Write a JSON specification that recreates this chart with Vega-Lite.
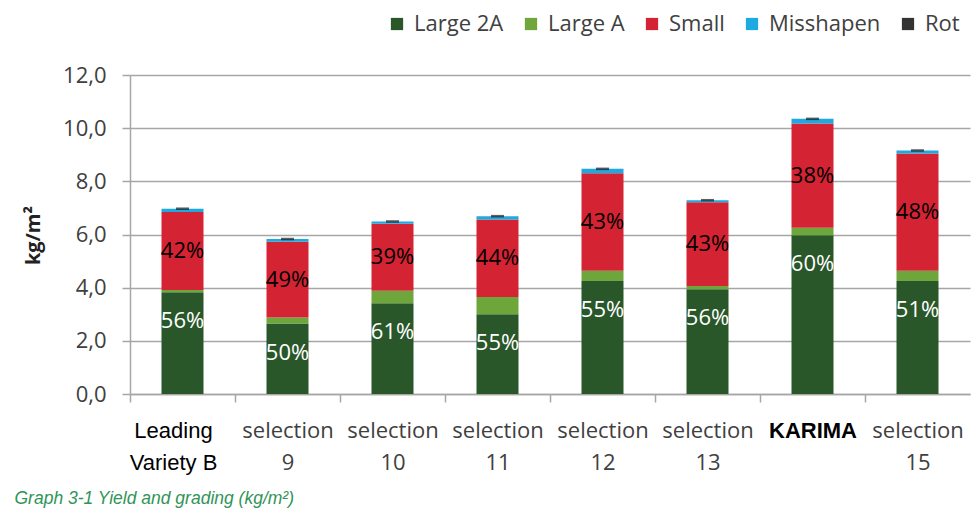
{
  "$schema": "https://vega.github.io/schema/vega-lite/v6.json",
  "width": 840,
  "height": 319,
  "autosize": {"type": "none"},
  "padding": {"left": 130, "top": 75, "right": 6, "bottom": 116},
  "background": "white",
  "config": {
    "view": {"stroke": null},
    "font": "Open Sans",
    "axisY": {
      "titleFontWeight": "bold",
      "titleFontSize": 20,
      "titleColor": "#222222",
      "titleFont": "Open Sans",
      "titleX": -97,
      "titleY": 160,
      "titleAngle": -90,
      "titleAlign": "center",
      "titleBaseline": "middle",
      "labelFontSize": 22,
      "labelColor": "#404040",
      "labelPadding": 16,
      "tickSize": 8,
      "tickColor": "#a6a6a6",
      "tickWidth": 1.5,
      "domainColor": "#a6a6a6",
      "domainWidth": 1.5,
      "gridColor": "#a6a6a6",
      "gridWidth": 1.5
    }
  },
  "data": {
    "values": [
      {"variety": "Leading|Variety B", "grade": "Large 2A", "o": 1, "kg": 3.83, "pct": "56%"},
      {"variety": "Leading|Variety B", "grade": "Large A", "o": 2, "kg": 0.08, "pct": ""},
      {"variety": "Leading|Variety B", "grade": "Small", "o": 3, "kg": 2.94, "pct": "42%"},
      {"variety": "Leading|Variety B", "grade": "Misshapen", "o": 4, "kg": 0.12, "pct": ""},
      {"variety": "Leading|Variety B", "grade": "Rot", "o": 5, "kg": 0.03, "pct": ""},
      {"variety": "selection|9", "grade": "Large 2A", "o": 1, "kg": 2.65, "pct": "50%"},
      {"variety": "selection|9", "grade": "Large A", "o": 2, "kg": 0.23, "pct": ""},
      {"variety": "selection|9", "grade": "Small", "o": 3, "kg": 2.85, "pct": "49%"},
      {"variety": "selection|9", "grade": "Misshapen", "o": 4, "kg": 0.1, "pct": ""},
      {"variety": "selection|9", "grade": "Rot", "o": 5, "kg": 0.03, "pct": ""},
      {"variety": "selection|10", "grade": "Large 2A", "o": 1, "kg": 3.41, "pct": "61%"},
      {"variety": "selection|10", "grade": "Large A", "o": 2, "kg": 0.47, "pct": ""},
      {"variety": "selection|10", "grade": "Small", "o": 3, "kg": 2.52, "pct": "39%"},
      {"variety": "selection|10", "grade": "Misshapen", "o": 4, "kg": 0.09, "pct": ""},
      {"variety": "selection|10", "grade": "Rot", "o": 5, "kg": 0.03, "pct": ""},
      {"variety": "selection|11", "grade": "Large 2A", "o": 1, "kg": 3.0, "pct": "55%"},
      {"variety": "selection|11", "grade": "Large A", "o": 2, "kg": 0.65, "pct": ""},
      {"variety": "selection|11", "grade": "Small", "o": 3, "kg": 2.91, "pct": "44%"},
      {"variety": "selection|11", "grade": "Misshapen", "o": 4, "kg": 0.13, "pct": ""},
      {"variety": "selection|11", "grade": "Rot", "o": 5, "kg": 0.03, "pct": ""},
      {"variety": "selection|12", "grade": "Large 2A", "o": 1, "kg": 4.25, "pct": "55%"},
      {"variety": "selection|12", "grade": "Large A", "o": 2, "kg": 0.39, "pct": ""},
      {"variety": "selection|12", "grade": "Small", "o": 3, "kg": 3.66, "pct": "43%"},
      {"variety": "selection|12", "grade": "Misshapen", "o": 4, "kg": 0.17, "pct": ""},
      {"variety": "selection|12", "grade": "Rot", "o": 5, "kg": 0.03, "pct": ""},
      {"variety": "selection|13", "grade": "Large 2A", "o": 1, "kg": 3.94, "pct": "56%"},
      {"variety": "selection|13", "grade": "Large A", "o": 2, "kg": 0.12, "pct": ""},
      {"variety": "selection|13", "grade": "Small", "o": 3, "kg": 3.15, "pct": "43%"},
      {"variety": "selection|13", "grade": "Misshapen", "o": 4, "kg": 0.08, "pct": ""},
      {"variety": "selection|13", "grade": "Rot", "o": 5, "kg": 0.03, "pct": ""},
      {"variety": "KARIMA", "grade": "Large 2A", "o": 1, "kg": 5.97, "pct": "60%"},
      {"variety": "KARIMA", "grade": "Large A", "o": 2, "kg": 0.28, "pct": ""},
      {"variety": "KARIMA", "grade": "Small", "o": 3, "kg": 3.93, "pct": "38%"},
      {"variety": "KARIMA", "grade": "Misshapen", "o": 4, "kg": 0.17, "pct": ""},
      {"variety": "KARIMA", "grade": "Rot", "o": 5, "kg": 0.03, "pct": ""},
      {"variety": "selection|15", "grade": "Large 2A", "o": 1, "kg": 4.25, "pct": "51%"},
      {"variety": "selection|15", "grade": "Large A", "o": 2, "kg": 0.39, "pct": ""},
      {"variety": "selection|15", "grade": "Small", "o": 3, "kg": 4.41, "pct": "48%"},
      {"variety": "selection|15", "grade": "Misshapen", "o": 4, "kg": 0.11, "pct": ""},
      {"variety": "selection|15", "grade": "Rot", "o": 5, "kg": 0.03, "pct": ""}
    ]
  },
  "encoding": {
    "x": {
      "field": "variety",
      "type": "nominal",
      "sort": null,
      "scale": {"paddingInner": 0.6, "paddingOuter": 0.3},
      "axis": {
        "title": "Graph 3-1 Yield and grading (kg/m²)",
        "titleX": -116,
        "titleY": 104,
        "titleAlign": "left",
        "titleBaseline": "middle",
        "titleFont": "Liberation Sans",
        "titleFontStyle": "italic",
        "titleFontWeight": "normal",
        "titleFontSize": 17.5,
        "titleColor": "#2f9457",
        "labelExpr": "split(datum.label, '|')",
        "labelAngle": 0,
        "labelBaseline": "top",
        "labelPadding": 18,
        "labelLineHeight": {"condition": {"test": "datum.value == 'Leading|Variety B'", "value": 23}, "value": 32},
        "labelFontSize": 22,
        "labelOffset": {"condition": {"test": "datum.value == 'Leading|Variety B'", "value": 43}, "value": 52.5},
        "labelFont": {"condition": {"test": "datum.value == 'Leading|Variety B' || datum.value == 'KARIMA'", "value": "Liberation Sans"}, "value": "Open Sans"},
        "labelFontWeight": {"condition": {"test": "datum.value == 'KARIMA'", "value": "bold"}, "value": "normal"},
        "labelColor": {"condition": {"test": "datum.value == 'Leading|Variety B' || datum.value == 'KARIMA'", "value": "#000000"}, "value": "#404040"},
        "domainColor": "#a6a6a6",
        "domainWidth": 1.5,
        "tickColor": "#a6a6a6",
        "tickWidth": 1.5,
        "tickSize": 8,
        "tickOffset": -52.5,
        "grid": false
      }
    }
  },
  "layer": [
    {
      "transform": [{"filter": "datum.grade != 'Rot'"}],
      "mark": {"type": "bar"},
      "encoding": {
        "y": {
          "field": "kg",
          "type": "quantitative",
          "stack": "zero",
          "scale": {"domain": [0, 12]},
          "axis": {"title": "kg/m²", "values": [0, 2, 4, 6, 8, 10, 12], "labelExpr": "replace(format(datum.value, '.1f'), '.', ',')"}
        },
        "color": {
          "field": "grade",
          "type": "nominal",
          "scale": {
            "domain": ["Large 2A", "Large A", "Small", "Misshapen", "Rot"],
            "range": ["#29572a", "#6ea63c", "#d42333", "#1fa9e1", "#333333"]
          },
          "legend": {
            "title": null,
            "orient": "none",
            "legendX": 256,
            "legendY": -62,
            "direction": "horizontal",
            "symbolType": "square",
            "symbolSize": 150,
            "symbolStrokeWidth": 0,
            "labelFontSize": 22,
            "labelColor": "#404040",
            "labelOffset": 6,
            "columnPadding": 16
          }
        },
        "order": {"field": "o", "type": "quantitative"}
      }
    },
    {
      "transform": [
        {"stack": "kg", "groupby": ["variety"], "sort": [{"field": "o", "order": "ascending"}], "as": ["y0", "y1"]},
        {"filter": "datum.grade == 'Rot'"}
      ],
      "mark": {"type": "tick", "size": 13, "thickness": 2.5, "color": "#1a1a1a"},
      "encoding": {
        "y": {"field": "y0", "type": "quantitative", "axis": {"title": "kg/m²", "values": [0, 2, 4, 6, 8, 10, 12], "labelExpr": "replace(format(datum.value, '.1f'), '.', ',')"}}
      }
    },
    {
      "transform": [{"filter": "datum.grade == 'Large 2A'"}],
      "mark": {"type": "text", "dy": 29, "color": "#ffffff", "fontSize": 22, "font": "Open Sans", "baseline": "middle"},
      "encoding": {
        "y": {"field": "kg", "type": "quantitative", "axis": {"title": "kg/m²", "values": [0, 2, 4, 6, 8, 10, 12], "labelExpr": "replace(format(datum.value, '.1f'), '.', ',')"}},
        "text": {"field": "pct"}
      }
    },
    {
      "transform": [
        {"stack": "kg", "groupby": ["variety"], "sort": [{"field": "o", "order": "ascending"}], "as": ["y0", "y1"]},
        {"filter": "datum.grade == 'Small'"},
        {"fold": ["y0", "y1"], "as": ["edge", "pos"]}
      ],
      "mark": {"type": "text", "color": "#000000", "fontSize": 22, "font": "Open Sans", "baseline": "middle"},
      "encoding": {
        "y": {"aggregate": "mean", "field": "pos", "type": "quantitative", "axis": {"title": "kg/m²", "values": [0, 2, 4, 6, 8, 10, 12], "labelExpr": "replace(format(datum.value, '.1f'), '.', ',')"}},
        "text": {"field": "pct"}
      }
    }
  ]
}
